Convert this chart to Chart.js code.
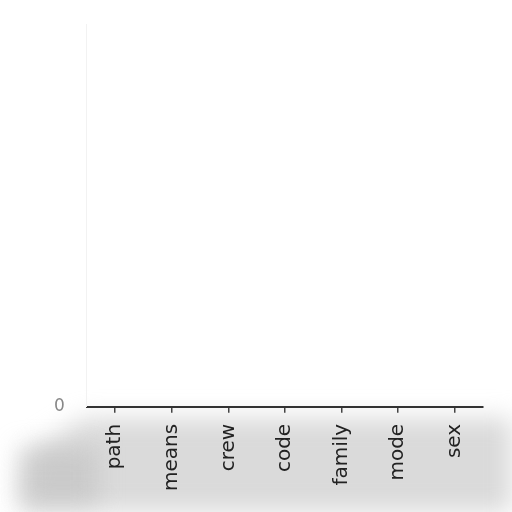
<!DOCTYPE html>
<html>
<head>
<meta charset="utf-8">
<script src="https://cdn.jsdelivr.net/npm/chart.js@4"></script>
<style>
html,body{margin:0;padding:0;background:#fff;}
#wrap{width:512px;height:512px;}
</style>
</head>
<body>
<div id="wrap"><canvas id="c" width="512" height="512"></canvas></div>
<script>
const categories = ["path", "means", "crew", "code", "family", "mode", "sex"];
const values = [0, 0, 0, 0, 0, 0, 0];
const yTickLabels = ["0"];

const shade = {
  id: 'shade',
  beforeDraw(chart) {
    const ctx = chart.ctx;
    ctx.save();
    ctx.filter = 'blur(12px)';
    ctx.fillStyle = 'rgba(205,205,205,0.75)';
    ctx.beginPath();
    ctx.moveTo(30, 452);
    ctx.lineTo(85, 418);
    ctx.lineTo(512, 418);
    ctx.lineTo(512, 512);
    ctx.lineTo(20, 512);
    ctx.closePath();
    ctx.fill();
    ctx.fillStyle = 'rgba(190,190,190,0.55)';
    ctx.fillRect(18, 447, 80, 58);
    ctx.restore();
  }
};

new Chart(document.getElementById('c'), {
  type: 'bar',
  data: {
    labels: categories,
    datasets: [{ data: values, backgroundColor: '#1f77b4' }]
  },
  options: {
    responsive: false,
    animation: false,
    layout: { padding: { top: 20, right: 29, bottom: 10, left: 40 } },
    plugins: { legend: { display: false }, tooltip: { enabled: false } },
    scales: {
      x: {
        offset: true,
        grid: { display: true, offset: false, drawOnChartArea: false, tickLength: 6, color: '#444', lineWidth: 1.5 },
        border: { display: true, color: '#333', width: 2 },
        ticks: {
          color: '#222', maxRotation: 90, minRotation: 90, padding: 11,
          font: { family: 'DejaVu Sans', size: 20 }
        }
      },
      y: {
        min: 0, max: 1,
        grid: { display: false },
        border: { display: true, color: '#f2f2f2', width: 1 },
        ticks: {
          color: '#888', padding: 14,
          font: { family: 'DejaVu Sans', size: 17 },
          callback: (v) => (v === 0 ? yTickLabels[0] : '')
        }
      }
    }
  },
  plugins: [shade]
});
</script>
</body>
</html>
